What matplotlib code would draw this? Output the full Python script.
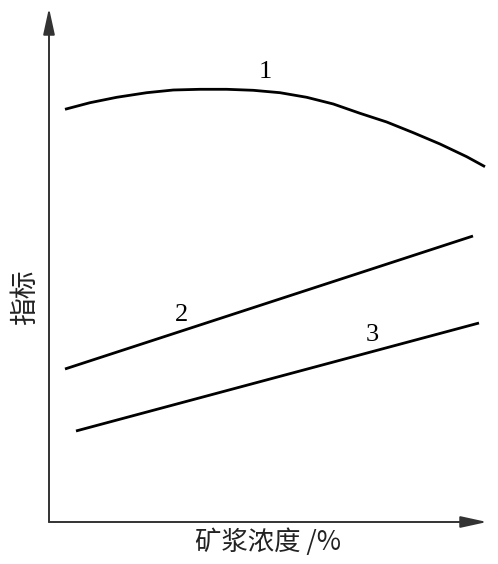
import matplotlib
matplotlib.use("Agg")
import matplotlib.pyplot as plt

plt.rcParams['font.family'] = ['Noto Sans CJK SC', 'DejaVu Sans']

# Schematic values (arbitrary units)
c1_x = [16, 41, 67.7, 97.7, 124.3, 151, 177.7, 204.3, 231, 257.7, 284.3,
        311, 337.7, 364.3, 391, 417.7, 436]
c1_y = [412.7, 419.3, 424.7, 429.3, 432, 432.7, 432.7, 431.7, 429.3, 424.7,
        418, 408.7, 400, 389.3, 378, 365.3, 355.3]
c2_x = [16, 424]
c2_y = [153, 286]
c3_x = [27, 430]
c3_y = [91, 199]

curve_labels = ["1", "2", "3"]
label_x = [216, 133, 323]
label_y = [450, 207, 187]

xlabel = "矿浆浓度 /%"
ylabel = "指标"

fig = plt.figure(figsize=(4.98, 5.64), dpi=100)
ax = fig.add_axes([49/498, 42/564, 449/498, 522/564])
ax.set_xlim(0, 449)
ax.set_ylim(0, 522)
ax.axis('off')

for xs, ys in [(c1_x, c1_y), (c2_x, c2_y), (c3_x, c3_y)]:
    ax.plot(xs, ys, color='black', lw=2.0, solid_capstyle='butt',
            solid_joinstyle='round')

for t, x, y in zip(curve_labels, label_x, label_y):
    ax.text(x, y, t, ha='center', va='center', fontsize=19,
            family=['Liberation Serif', 'DejaVu Serif'])

# axes with arrows
ax.annotate('', xy=(438, 0), xytext=(0, 0),
            arrowprops=dict(arrowstyle='-|>,head_length=1.6,head_width=0.35',
                            color='#333333', lw=1.4, shrinkA=0, shrinkB=0))
ax.annotate('', xy=(0, 514), xytext=(0, 0),
            arrowprops=dict(arrowstyle='-|>,head_length=1.6,head_width=0.35',
                            color='#333333', lw=1.4, shrinkA=0, shrinkB=0))

fig.text(268/498, 1 - 542/564, xlabel, ha='center', va='center', fontsize=19,
         color='#222222')
fig.text(25/498, 1 - 297/564, ylabel, ha='center', va='center', fontsize=20,
         rotation=90, color='#222222')

fig.savefig('out.png', dpi=100)
